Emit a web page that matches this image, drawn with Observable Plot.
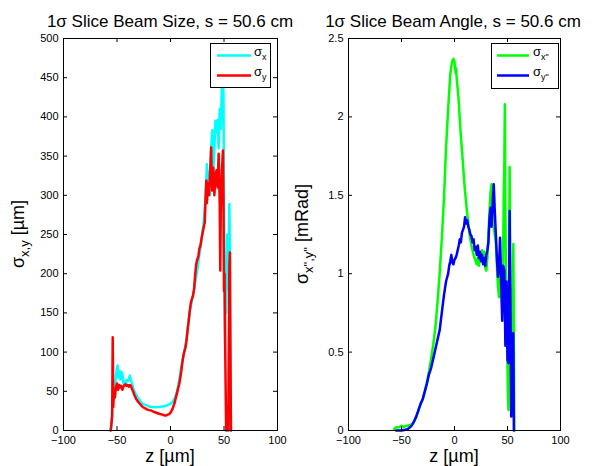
<!DOCTYPE html>
<html>
<head>
<meta charset="utf-8">
<script src="https://cdn.jsdelivr.net/npm/d3@7"></script>
<script src="https://cdn.jsdelivr.net/npm/@observablehq/plot@0.6"></script>
<style>
  html, body { margin: 0; padding: 0; background: #fff; }
  #chart { position: relative; width: 594px; height: 466px; overflow: hidden; }
  #chart svg { position: absolute; top: 0; overflow: visible; }
</style>
</head>
<body>
<div id="chart"></div>
<script>
// ---------- tick values ----------
const zTicks = [-100, -50, 0, 50, 100];
const sizeTicks = [0, 50, 100, 150, 200, 250, 300, 350, 400, 450, 500];
const angleTicks = [0, 0.5, 1, 1.5, 2, 2.5];

// ---------- left panel: slice beam size [µm] ----------
const sigmaXZ = [-56,-55,-54.5,-54,-53,-52,-51,-50,-49.5,-49,
  -48,-47,-46,-45,-44,-43,-42,-41,-40,-39,-38,-37,-36,-35,-34,-33,-32,
  -30,-28,-26,-24,-22,-20,-18,-16,-14,-12,-10,-8,-6,-4,-2,
  0,2,4,
  5,6,7,8,9,10,11,12,13,14,15,16,17,18,19,20,21,22,23,24,25,26,27,28,29,30,31,32,33,34,35,36,37,38,39,40,41,42,43,44,45,46,47,48,
  48.5,49,49.5,50,50.5,51,51.5,52,
  53,54,55,55.5,56,56.5];
const sigmaXV = [0,10,30,45,40,55,70,80,83,68,
  76,65,75,72,60,62,58,64,63,66,70,64,60,55,51,48,45,
  41,37,34,33,32,30.5,30,30,29.5,30,30,30.5,31,31.5,33,
  34,37,41,
  45,50,56,63,72,80,88,95,102,108,118,130,140,150,158,165,172,180,188,196,205,215,224,233,243,255,265,285,300,340,310,330,300,360,383,330,360,395,380,396,360,410,385,438,
  420,445,430,300,180,111,200,150,
  250,180,289,230,60,0];

const sigmaYZ = [-56,-55.5,-54.5,-54,-53.5,-53,-52.5,-52,
  -51,-50,-49,-48,-47,-46,-45,-44,-43,-42,-41,-40,-39,-38,-37,-36,-35,-34,-33,-32,
  -30,-28,-26,-24,-22,-20,-18,-16,-14,-12,-10,-8,-6,-4,
  -3,-2,-1,
  0,1,2,3,4,5,6,7,8,9,10,11,12,13,14,15,16,17,18,19,20,21,22,23,24,25,26,27,28,29,30,31,32,33,
  33.5,34,35,36,37,38,38.5,39,40,41,42,43,44,45,46,46.5,47,48,49,
  49.5,50,50.5,51,52,53,54,55,55.5,56,56.5];
const sigmaYV = [0,4,20,119,30,45,49,42,
  55,60,52,58,55,57,52,56,58,59,57,58,56,58,57,53,50,46,43,40,
  36,33,30,28.5,27,26,25.5,24,23,22,21,20.5,19.5,19,
  20,20.5,21,
  23,25,28,32,36,42,47,53,58,66,75,86,95,101,106,115,128,140,153,163,168,172,180,198,212,218,222,232,236,245,252,259,265,305,
  319,290,315,300,330,361,320,306,335,300,325,332,310,353,290,204,280,330,357,
  300,178,200,120,0,30,0,210,227,100,0];

// ---------- right panel: slice beam angle [mRad] ----------
const sigmaXpZ = [-57,-55,-52,
  -50,-48,-46,-44,-42,-40,-38,-36,-34,-32,-30,-28,-26,-24,-22,-20,-18,-16,-14,-12,-10,-8,-6,-4,
  -3,-2,-1,0,1,1.5,
  2,3,4,5,6,7,8,9,10,11,12,13,14,15,16,17,18,19,20,21,22,23,24,25,26,27,28,29,30,31,32,33,34,35,36,37,38,39,40,41,42,43,44,45,46,
  46.5,47,47.5,48,48.5,49,49.5,50,50.5,51,51.5,52,52.5,53,54,54.5,55,55.5,56,56.5];
const sigmaXpV = [0.01,0.02,0.02,
  0.03,0.02,0.03,0.03,0.035,0.04,0.06,0.09,0.13,0.17,0.20,0.25,0.31,0.38,0.46,0.55,0.66,0.82,1.00,1.22,1.47,1.80,2.05,2.27,
  2.32,2.36,2.37,2.35,2.28,2.31,
  2.25,2.18,2.10,1.98,1.88,1.79,1.70,1.60,1.52,1.45,1.38,1.33,1.26,1.22,1.18,1.15,1.12,1.10,1.08,1.06,1.10,1.05,1.12,1.08,1.15,1.10,1.14,1.04,1.02,1.10,1.25,1.40,1.52,1.57,1.45,1.30,1.25,1.20,1.05,0.92,0.85,1.10,0.95,0.80,1.20,
  1.50,1.70,2.08,1.40,1.00,0.75,0.60,0.40,0.20,0.13,0.90,1.68,1.10,0.58,0.90,0.30,0.70,1.19,0.60,0];

const sigmaYpZ = [-55,-50,-46,-44,-42,-40,-38,-36,-34,-32,-30,-28,-26,-24,-22,-20,-18,-16,-14,-12,-10,-8,-6,-5,-4,-3,-2,-1,
  0,1,2,3,4,5,6,7,8,9,10,11,12,13,14,15,16,17,18,19,20,21,22,23,24,25,26,27,28,29,30,31,32,33,34,35,36,37,38,39,40,41,42,43,44,45,46,47,48,49,50,51,
  52,53,53.5,54,55,55.5,56];
const sigmaYpV = [0,0,0.005,0.01,0.02,0.035,0.06,0.09,0.13,0.17,0.20,0.25,0.30,0.36,0.40,0.46,0.52,0.58,0.64,0.75,0.86,0.95,1.00,1.05,1.08,1.12,1.07,1.06,
  1.09,1.10,1.12,1.15,1.18,1.22,1.20,1.26,1.28,1.30,1.36,1.32,1.34,1.30,1.28,1.25,1.24,1.20,1.22,1.15,1.17,1.12,1.18,1.10,1.14,1.08,1.12,1.06,1.10,1.05,1.12,1.15,1.20,1.35,1.42,1.30,1.45,1.57,1.40,1.25,1.10,0.98,1.05,1.23,0.95,0.70,1.05,1.02,0.54,0.95,0.45,0.43,
  1.40,0.60,0.09,0.62,0.30,0.62,0];

// ---------- helpers ----------
function series(zs, vs, name) {
  if (zs.length !== vs.length) throw new Error(name + " length mismatch " + zs.length + " vs " + vs.length);
  return zs.map((z, i) => ({z, v: vs[i]}));
}
const fmt = d => (d < 0 ? "\u2212" + Math.abs(d) : String(d));
const FONT = "'Liberation Sans', Arial, Helvetica, sans-serif";

function panel({width, ml, mr, yDomain, yTicks, lines}) {
  const H = 466, mt = 38, mb = 36;
  const FH = H - mt - mb, FW = width - ml - mr;
  return Plot.plot({
    width, height: H,
    marginLeft: ml, marginRight: mr, marginTop: mt, marginBottom: mb,
    style: {fontFamily: FONT, fontSize: "11px", color: "black", background: "transparent", overflow: "visible"},
    x: {domain: [-100, 100]},
    y: {domain: yDomain},
    marks: [
      ...lines.map(l => Plot.line(l.data, {x: "z", y: "v", stroke: l.color, strokeWidth: 2.5, strokeLinejoin: "round"})),
      Plot.frame({stroke: "black", strokeWidth: 1}),
      Plot.tickX(zTicks, {x: d => d, insetTop: FH - 4, stroke: "black"}),
      Plot.tickX(zTicks, {x: d => d, insetBottom: FH - 4, stroke: "black"}),
      Plot.tickY(yTicks, {y: d => d, insetRight: FW - 4, stroke: "black"}),
      Plot.tickY(yTicks, {y: d => d, insetLeft: FW - 4, stroke: "black"}),
      Plot.axisX({ticks: zTicks, tickSize: 0, tickPadding: 6, tickFormat: fmt, label: null}),
      Plot.axisY({ticks: yTicks, tickSize: 0, tickPadding: 5, tickFormat: fmt, label: null})
    ]
  });
}

function addText(svg, {x, y, size, parts, rotate = false, anchor = "middle"}) {
  const t = d3.select(svg).append("text")
    .attr("font-family", FONT)
    .attr("fill", "black")
    .attr("text-anchor", anchor)
    .attr("font-size", size)
    .attr("transform", rotate ? `translate(${x},${y}) rotate(-90)` : `translate(${x},${y})`);
  let shift = 0;
  for (const p of parts) {
    const s = t.append("tspan").text(p.text).attr("font-size", p.size || size);
    const target = p.sub || 0;
    if (target !== shift) { s.attr("dy", target - shift); shift = target; }
  }
  return t;
}

function addLegend(svg, {x0, x1, y0, y1, lx0, lx1, tx, entries}) {
  const g = d3.select(svg).append("g");
  g.append("rect").attr("x", x0).attr("y", y0).attr("width", x1 - x0).attr("height", y1 - y0)
    .attr("fill", "white").attr("stroke", "black").attr("stroke-width", 1);
  for (const e of entries) {
    g.append("line").attr("x1", lx0).attr("x2", lx1).attr("y1", e.y).attr("y2", e.y)
      .attr("stroke", e.color).attr("stroke-width", 2.5);
    addText(svg, {x: tx, y: e.y, size: 13, anchor: "start",
      parts: [{text: "\u03c3"}, {text: e.sub, size: 9, sub: 4}]});
  }
}

// ---------- left panel ----------
const left = panel({
  width: 297, ml: 63, mr: 20, yDomain: [0, 500], yTicks: sizeTicks,
  lines: [
    {data: series(sigmaXZ, sigmaXV, "sigmaX"), color: "#00ffff"},
    {data: series(sigmaYZ, sigmaYV, "sigmaY"), color: "#ff0000"}
  ]
});
left.style.left = "0px";
addText(left, {x: 170, y: 27, size: 17, parts: [{text: "1\u03c3 Slice Beam Size, s = 50.6 cm"}]});
addText(left, {x: 170, y: 462, size: 18, parts: [{text: "z [\u00b5m]"}]});
addText(left, {x: 24, y: 234, size: 18, rotate: true,
  parts: [{text: "\u03c3"}, {text: "x,y", size: 13, sub: 5}, {text: " [\u00b5m]", sub: 0}]});
addLegend(left, {x0: 210.5, x1: 270.5, y0: 43.5, y1: 87.5, lx0: 217, lx1: 251, tx: 254,
  entries: [{y: 55.5, color: "#00ffff", sub: "x"}, {y: 75.5, color: "#ff0000", sub: "y"}]});

// ---------- right panel ----------
const right = panel({
  width: 297, ml: 51, mr: 34, yDomain: [0, 2.5], yTicks: angleTicks,
  lines: [
    {data: series(sigmaXpZ, sigmaXpV, "sigmaXp"), color: "#00ff00"},
    {data: series(sigmaYpZ, sigmaYpV, "sigmaYp"), color: "#0000ff"}
  ]
});
right.style.left = "297px";
addText(right, {x: 156, y: 27, size: 17, parts: [{text: "1\u03c3 Slice Beam Angle, s = 50.6 cm"}]});
addText(right, {x: 157, y: 462, size: 18, parts: [{text: "z [\u00b5m]"}]});
addText(right, {x: 11, y: 234, size: 18, rotate: true,
  parts: [{text: "\u03c3"}, {text: "x\",y\"", size: 13, sub: 5}, {text: " [mRad]", sub: 0}]});
addLegend(right, {x0: 194.5, x1: 261.5, y0: 43.5, y1: 88.5, lx0: 200, lx1: 232, tx: 236,
  entries: [{y: 55.5, color: "#00ff00", sub: "x\""}, {y: 75.5, color: "#0000ff", sub: "y\""}]});

const chart = document.getElementById("chart");
chart.appendChild(left);
chart.appendChild(right);
</script>
</body>
</html>
